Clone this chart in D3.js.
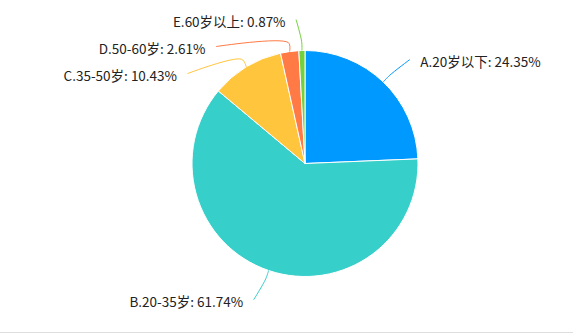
<!DOCTYPE html>
<html>
<head>
<meta charset="utf-8">
<script src="https://cdn.jsdelivr.net/npm/d3@7"></script>
<style>
  html, body { margin: 0; padding: 0; background: #fff; }
  svg { display: block; }
</style>
</head>
<body>
<svg id="chart" width="573" height="335"></svg>
<script>
const categories = ['A.20岁以下', 'B.20-35岁', 'C.35-50岁', 'D.50-60岁', 'E.60岁以上'];
const values = [24.35, 61.74, 10.43, 2.61, 0.87];
const colors = ['#0099ff', '#36cfc9', '#ffc53d', '#ff7a45', '#73d13d'];

const W = 573, H = 335;
const cx = 305, cy = 163.5, r = 113;
const elbowR = r + 9, labelR = r + 31, labelGap = 27, len2 = 5, textPad = 10.5;

const svg = d3.select('#chart');

// bottom border line
svg.append('line')
  .attr('x1', 0).attr('x2', W)
  .attr('y1', 332.5).attr('y2', 332.5)
  .attr('stroke', '#dddddd').attr('stroke-width', 1);

const data = categories.map((c, i) => ({ name: c, value: values[i], color: colors[i] }));
const pie = d3.pie().sort(null).value(d => d.value).startAngle(0).endAngle(2 * Math.PI);
const arcs = pie(data);
const arcGen = d3.arc().innerRadius(0).outerRadius(r);

const g = svg.append('g').attr('transform', `translate(${cx},${cy})`);
g.selectAll('path.slice').data(arcs).enter().append('path')
  .attr('class', 'slice')
  .attr('d', arcGen)
  .attr('fill', d => d.data.color)
  .attr('stroke', '#fff')
  .attr('stroke-width', 1)
  .attr('stroke-linejoin', 'round');

// label layout
const labels = arcs.map(a => {
  const mid = (a.startAngle + a.endAngle) / 2;
  const s = Math.sin(mid), c = Math.cos(mid);
  return {
    a, mid, s, c,
    dir: s >= 0 ? 1 : -1,
    y: cy - labelR * c
  };
});
[1, -1].forEach(dir => {
  const side = labels.filter(l => l.dir === dir).sort((p, q) => p.y - q.y);
  for (let i = 1; i < side.length; i++) {
    side[i].y = Math.max(side[i].y, side[i - 1].y + labelGap);
  }
});
labels.forEach(l => {
  const dy = Math.abs(l.y - cy);
  const dx = dy < labelR ? Math.sqrt(labelR * labelR - dy * dy) : 0;
  l.x = cx + l.dir * (dx + len2);
});

const lineGen = d3.line().curve(d3.curveCatmullRom.alpha(0.5));
svg.selectAll('path.lbl').data(labels).enter().append('path')
  .attr('class', 'lbl')
  .attr('d', l => lineGen([
    [cx + r * l.s, cy - r * l.c],
    [cx + elbowR * l.s, cy - elbowR * l.c],
    [l.x, l.y]
  ]))
  .attr('fill', 'none')
  .attr('stroke', l => l.a.data.color)
  .attr('stroke-width', 1);

svg.selectAll('text.lbl').data(labels).enter().append('text')
  .attr('class', 'lbl')
  .attr('x', l => l.x + l.dir * textPad)
  .attr('y', l => l.y + 7.6)
  .attr('text-anchor', l => l.dir > 0 ? 'start' : 'end')
  .attr('font-family', '"Noto Sans CJK SC", "Noto Sans", sans-serif')
  .attr('font-size', 13.5)
  .attr('fill', '#222')
  .text(l => `${l.a.data.name}: ${l.a.data.value.toFixed(2)}%`);
</script>
</body>
</html>
